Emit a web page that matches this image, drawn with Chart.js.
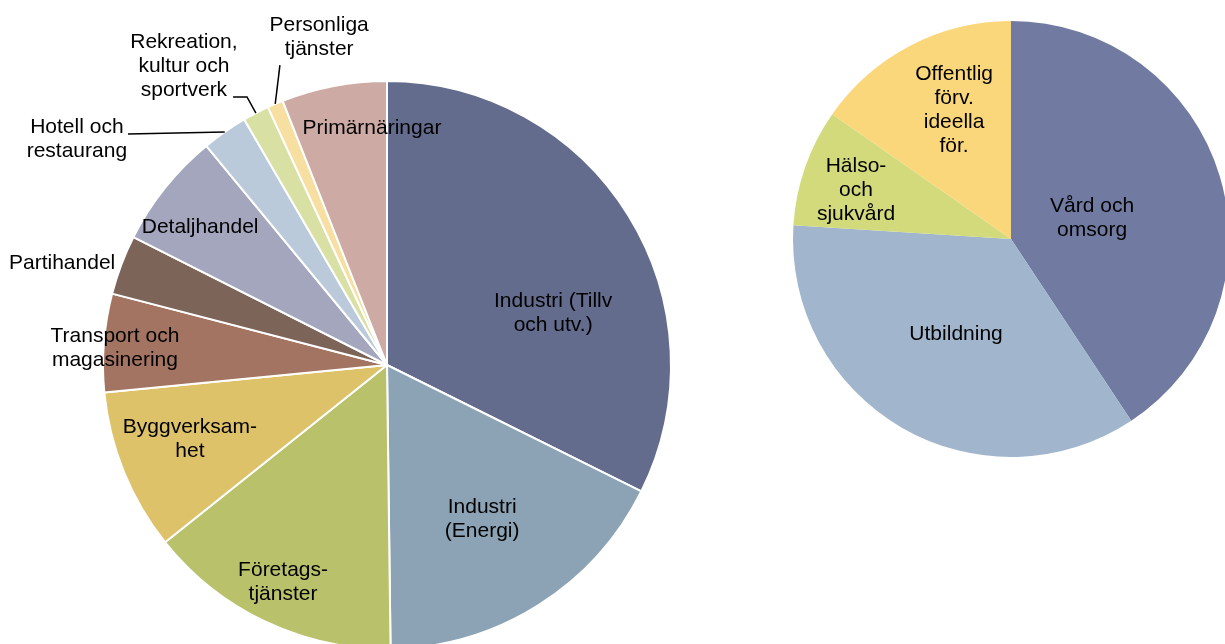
<!DOCTYPE html>
<html><head><meta charset="utf-8">
<script src="https://cdn.jsdelivr.net/npm/chart.js@4"></script>
<style>
html,body{margin:0;padding:0;background:#fff;overflow:hidden}
#wrap{position:relative;width:1225px;height:644px}
canvas{position:absolute;left:0;top:0}
</style></head>
<body><div id="wrap"><canvas id="c1" width="1225" height="644"></canvas><canvas id="c2" width="1225" height="644"></canvas></div>
<script>
// ---- data ----
const leftCategories = ['Industri (Tillv och utv.)','Industri (Energi)','Företagstjänster','Byggverksamhet','Transport och magasinering','Partihandel','Detaljhandel','Hotell och restaurang','Rekreation, kultur och sportverk','Personliga tjänster','Primärnäringar'];
const leftValues = [32.4, 17.5, 14.5, 9.2, 5.6, 3.4, 6.6, 2.6, 1.5, 0.9, 6.0];
const leftLabelLines = [['Industri (Tillv','och utv.)'],['Industri','(Energi)'],['Företags-','tjänster'],['Byggverksam-','het'],['Transport och','magasinering'],['Partihandel'],['Detaljhandel'],['Hotell och','restaurang'],['Rekreation,','kultur och','sportverk'],['Personliga','tjänster'],['Primärnäringar']];

const rightCategories = ['Vård och omsorg','Utbildning','Hälso- och sjukvård','Offentlig förv. ideella för.'];
const rightValues = [40.7, 35.3, 8.7, 15.3];
const rightLabelLines = [['Vård och','omsorg'],['Utbildning'],['Hälso-','och','sjukvård'],['Offentlig','förv.','ideella','för.']];

// ---- styles / layout ----
const leftColors = ['#646c8e','#8ca3b5','#b9c16b','#dec26a','#a37461','#7c6459','#a3a6bd','#bacadb','#d9e0a4','#f6dfa0','#cdaba4'];
const rightColors = ['#717aa1','#a1b6cd','#d3da7b','#fad77b'];
// label centres, relative to pie centre in units of radius
const leftLabelPos = [[0.585,-0.183],[0.335,0.542],[-0.366,0.764],[-0.694,0.261],[-0.958,-0.060],[-1.144,-0.359],[-0.658,-0.486],[-1.092,-0.796],[-0.715,-1.053],[-0.239,-1.155],[-0.053,-0.835]];
// leader line points (relative), ending on arc edge at mid-angle
const leftLeaders = {7: [[-0.912,-0.813]], 8: [[-0.542,-0.944],[-0.493,-0.944]], 9: [[-0.377,-1.056]]};
const rightLabelPos = [[0.372,-0.096],[-0.252,0.436],[-0.711,-0.225],[-0.261,-0.592]];

const FONT = '21px "Liberation Sans", Arial, sans-serif';
const LINE_H = 24;

function labelPlugin(linesArr, posArr, leaders) {
  return {
    id: 'pieLabels',
    afterDatasetsDraw(chart) {
      const ctx = chart.ctx;
      const meta = chart.getDatasetMeta(0);
      ctx.save();
      ctx.font = FONT;
      ctx.fillStyle = '#000';
      ctx.textAlign = 'center';
      ctx.textBaseline = 'middle';
      meta.data.forEach((arc, i) => {
        const cx = arc.x, cy = arc.y, R = arc.outerRadius;
        const p = posArr[i];
        const tx = cx + p[0] * R, ty = cy + p[1] * R;
        const lines = linesArr[i];
        lines.forEach((ln, k) => {
          ctx.fillText(ln, tx, ty + (k - (lines.length - 1) / 2) * LINE_H);
        });
        if (leaders && leaders[i]) {
          const mid = (arc.startAngle + arc.endAngle) / 2;
          ctx.beginPath();
          ctx.strokeStyle = '#000';
          ctx.lineWidth = 1.5;
          leaders[i].forEach((q, k) => {
            const x = cx + q[0] * R, y = cy + q[1] * R;
            if (k === 0) ctx.moveTo(x, y); else ctx.lineTo(x, y);
          });
          ctx.lineTo(cx + Math.cos(mid) * R, cy + Math.sin(mid) * R);
          ctx.stroke();
        }
      });
      ctx.restore();
    }
  };
}

const common = {
  responsive: false,
  animation: false,
  events: [],
  plugins: { legend: { display: false }, tooltip: { enabled: false } }
};

new Chart(document.getElementById('c1'), {
  type: 'pie',
  data: { labels: leftCategories, datasets: [{ data: leftValues, backgroundColor: leftColors, borderColor: '#ffffff', borderWidth: 2, clip: false }] },
  options: Object.assign({}, common, { radius: 284, layout: { padding: { left: 0, right: 451, top: 86, bottom: 0 } } }),
  plugins: [labelPlugin(leftLabelLines, leftLabelPos, leftLeaders)]
});

new Chart(document.getElementById('c2'), {
  type: 'pie',
  data: { labels: rightCategories, datasets: [{ data: rightValues, backgroundColor: rightColors, borderWidth: 0, clip: false }] },
  options: Object.assign({}, common, { radius: 218, layout: { padding: { left: 797, right: 0, top: 0, bottom: 166 } } }),
  plugins: [labelPlugin(rightLabelLines, rightLabelPos, null)]
});
</script>
</body></html>
